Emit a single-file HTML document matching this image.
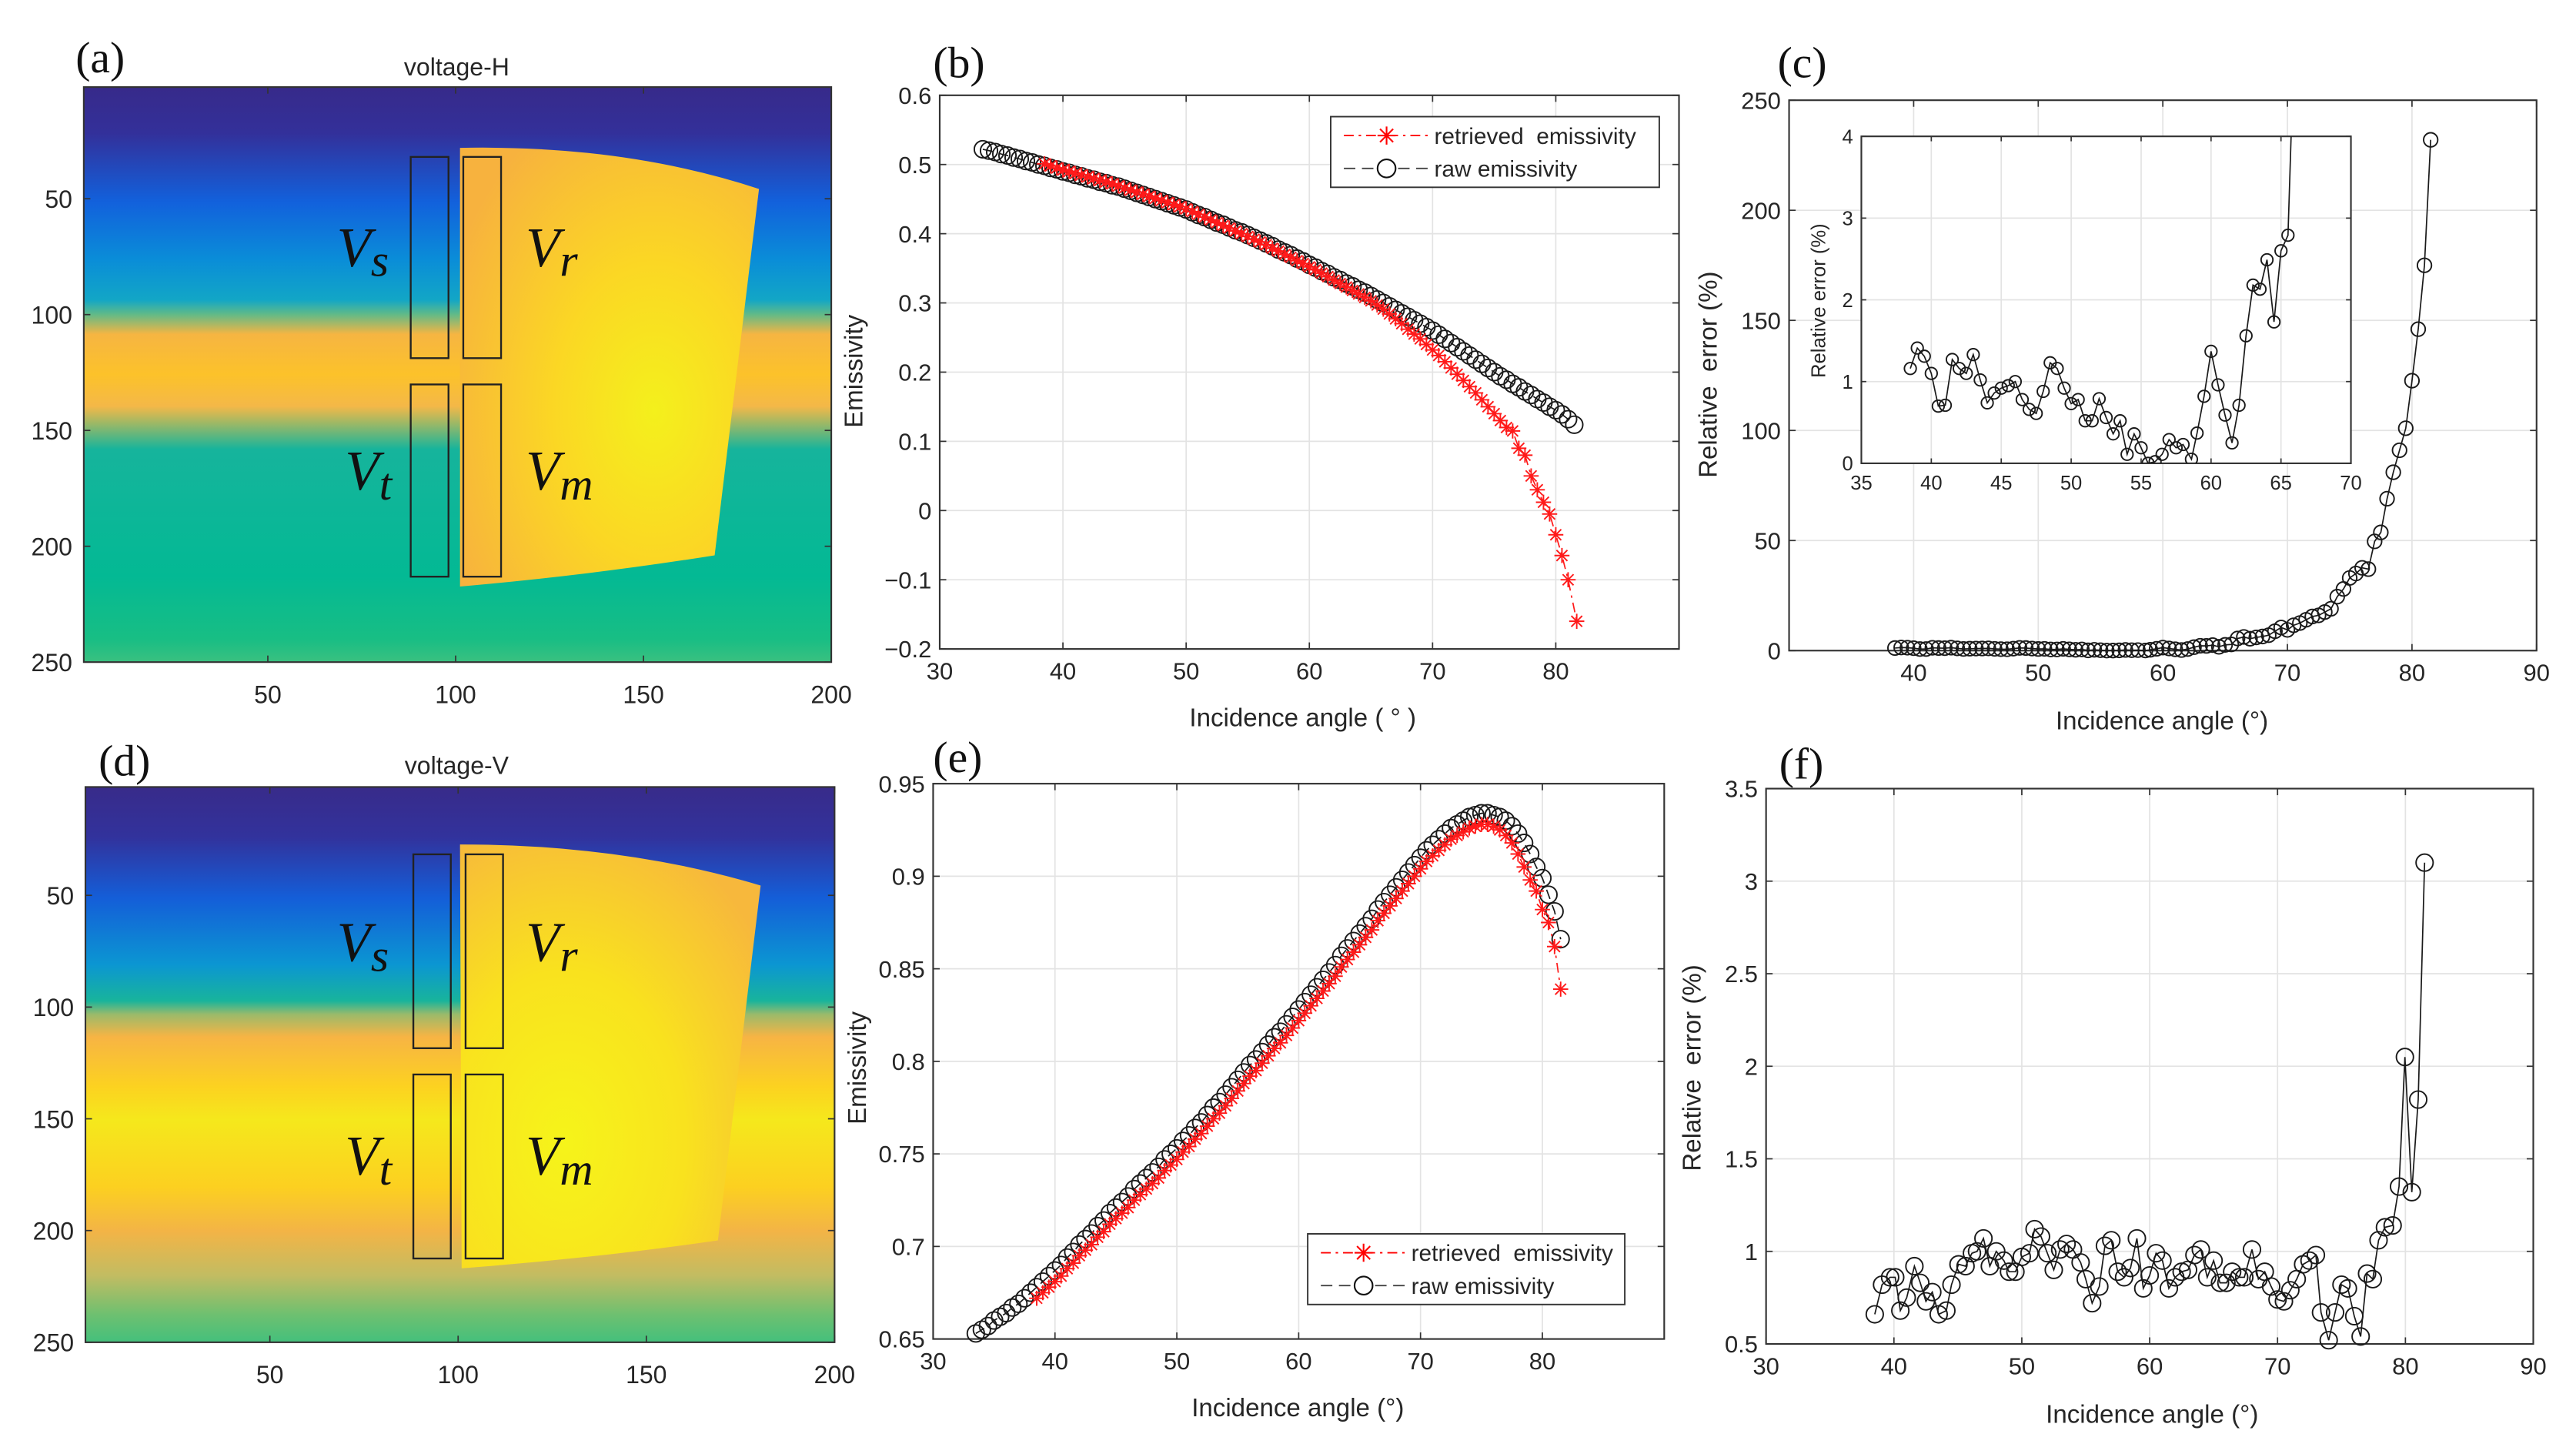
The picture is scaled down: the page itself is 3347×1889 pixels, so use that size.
<!DOCTYPE html>
<html><head><meta charset="utf-8">
<style>
html,body{margin:0;padding:0;background:#fff;}
svg{display:block;}
text{font-family:"Liberation Sans",Arial,sans-serif;fill:#262626;}
.pl{font-family:"Liberation Serif",serif;font-size:27px;fill:#111;}
.vl{font-family:"Liberation Serif",serif;font-style:italic;fill:#111;}
</style></head>
<body>
<svg id="fig" width="3347" height="1889" viewBox="0 0 1568 885" preserveAspectRatio="none" xmlns="http://www.w3.org/2000/svg">
<defs>
<linearGradient id="bgA" x1="0" y1="0" x2="0" y2="1">
<stop offset="0" stop-color="#372a8a"/><stop offset="0.08" stop-color="#33309a"/>
<stop offset="0.2" stop-color="#1261dc"/><stop offset="0.3" stop-color="#0a8dd8"/>
<stop offset="0.37" stop-color="#12a6c6"/><stop offset="0.395" stop-color="#60ba88"/>
<stop offset="0.43" stop-color="#f6b542"/><stop offset="0.5" stop-color="#fcc22a"/>
<stop offset="0.555" stop-color="#f4b848"/><stop offset="0.585" stop-color="#9cb866"/>
<stop offset="0.63" stop-color="#16b49c"/><stop offset="0.85" stop-color="#03b994"/>
<stop offset="0.96" stop-color="#18be84"/><stop offset="1" stop-color="#3ac080"/>
</linearGradient>
<linearGradient id="bgD" x1="0" y1="0" x2="0" y2="1">
<stop offset="0" stop-color="#382b8a"/><stop offset="0.09" stop-color="#32329c"/>
<stop offset="0.2" stop-color="#145ed8"/><stop offset="0.32" stop-color="#0b96d2"/>
<stop offset="0.385" stop-color="#18b49c"/><stop offset="0.41" stop-color="#9cba6a"/>
<stop offset="0.45" stop-color="#f7b444"/><stop offset="0.54" stop-color="#fcd220"/>
<stop offset="0.6" stop-color="#f5e81c"/><stop offset="0.72" stop-color="#fcd020"/>
<stop offset="0.8" stop-color="#f3b446"/><stop offset="0.88" stop-color="#c2bc62"/>
<stop offset="0.95" stop-color="#6ec070"/><stop offset="1" stop-color="#44c07c"/>
</linearGradient>
<radialGradient id="shA" cx="0.65" cy="0.6" r="0.75">
<stop offset="0" stop-color="#f4f01c"/><stop offset="0.45" stop-color="#fbd724"/><stop offset="1" stop-color="#f7b23e"/>
</radialGradient>
<radialGradient id="shD" cx="0.35" cy="0.7" r="0.8">
<stop offset="0" stop-color="#f6f41a"/><stop offset="0.5" stop-color="#f9e21e"/><stop offset="1" stop-color="#f7b83c"/>
</radialGradient>
<clipPath id="clipInset"><rect x="1133" y="83" width="298" height="199"/></clipPath>
</defs>

<!-- Panel (a) -->
<g>
<text class="pl" x="46" y="44">(a)</text>
<text x="278" y="46" font-size="15" text-anchor="middle">voltage-H</text>
<rect x="51" y="53" width="455" height="350" fill="url(#bgA)"/>
<path d="M280,90 Q380,88 462,115 L435,338 Q360,350 280,357 Z" fill="url(#shA)"/>
<rect x="250" y="95.5" width="23" height="122.5" fill="none" stroke="#222" stroke-width="1.1"/>
<rect x="282" y="95.5" width="23" height="122.5" fill="none" stroke="#222" stroke-width="1.1"/>
<rect x="250" y="234" width="23" height="117" fill="none" stroke="#222" stroke-width="1.1"/>
<rect x="282" y="234" width="23" height="117" fill="none" stroke="#222" stroke-width="1.1"/>
<text class="vl" x="205" y="162" font-size="34">V<tspan font-size="28" dy="6">s</tspan></text>
<text class="vl" x="320" y="162" font-size="34">V<tspan font-size="28" dy="6">r</tspan></text>
<text class="vl" x="210" y="298" font-size="34">V<tspan font-size="28" dy="6">t</tspan></text>
<text class="vl" x="320" y="298" font-size="34">V<tspan font-size="28" dy="6">m</tspan></text>
<rect x="51" y="53" width="455" height="350" fill="none" stroke="#333" stroke-width="1"/>
<g id="ticksA"></g>
</g>

<!-- Panel (d) -->
<g>
<text class="pl" x="60" y="472">(d)</text>
<text x="278" y="471" font-size="15" text-anchor="middle">voltage-V</text>
<rect x="52" y="479" width="456" height="338" fill="url(#bgD)"/>
<path d="M280,514 Q380,514 463,539 L437,755 Q360,766 281,772 Z" fill="url(#shD)"/>
<rect x="251.6" y="520" width="22.8" height="118" fill="none" stroke="#222" stroke-width="1.1"/>
<rect x="283.4" y="520" width="22.8" height="118" fill="none" stroke="#222" stroke-width="1.1"/>
<rect x="251.6" y="654" width="22.8" height="112" fill="none" stroke="#222" stroke-width="1.1"/>
<rect x="283.4" y="654" width="22.8" height="112" fill="none" stroke="#222" stroke-width="1.1"/>
<text class="vl" x="205" y="585" font-size="34">V<tspan font-size="28" dy="6">s</tspan></text>
<text class="vl" x="320" y="585" font-size="34">V<tspan font-size="28" dy="6">r</tspan></text>
<text class="vl" x="210" y="715" font-size="34">V<tspan font-size="28" dy="6">t</tspan></text>
<text class="vl" x="320" y="715" font-size="34">V<tspan font-size="28" dy="6">m</tspan></text>
<rect x="52" y="479" width="456" height="338" fill="none" stroke="#333" stroke-width="1"/>
<g id="ticksD"></g>
</g>

<text class="pl" x="568" y="47">(b)</text>
<text class="pl" x="1082" y="47">(c)</text>
<text class="pl" x="568" y="470">(e)</text>
<text class="pl" x="1083" y="474">(f)</text>
<g id="plots"></g>
</svg>

<script>
// ---------- data ----------
const bAngles = [33.5,34,34.5,35,35.5,36,36.5,37,37.5,38,38.5,39,39.5,40,40.5,41,41.5,42,42.5,43,43.5,44,44.5,45,45.5,46,46.5,47,47.5,48,48.5,49,49.5,50,50.5,51,51.5,52,52.5,53,53.5,54,54.5,55,55.5,56,56.5,57,57.5,58,58.5,59,59.5,60,60.5,61,61.5,62,62.5,63,63.5,64,64.5,65,65.5,66,66.5,67,67.5,68,68.5,69,69.5,70,70.5,71,71.5,72,72.5,73,73.5,74,74.5,75,75.5,76,76.5,77,77.5,78,78.5,79,79.5,80,80.5,81,81.5];
const bRaw = [.522,.520,.518,.515,.513,.510,.508,.505,.503,.500,.498,.495,.493,.490,.488,.485,.483,.480,.478,.475,.473,.470,.468,.465,.462,.459,.456,.453,.450,.447,.444,.441,.438,.435,.431,.427,.424,.420,.416,.413,.409,.405,.402,.398,.394,.390,.386,.382,.377,.373,.369,.364,.360,.355,.351,.346,.342,.337,.333,.328,.324,.319,.315,.310,.305,.300,.295,.290,.285,.280,.275,.270,.265,.260,.254,.248,.242,.236,.230,.224,.218,.212,.206,.200,.194,.189,.183,.178,.172,.167,.161,.156,.150,.145,.139,.132,.124];
const bRetAngles = [38.5,39,39.5,40,40.5,41,41.5,42,42.5,43,43.5,44,44.5,45,45.5,46,46.5,47,47.5,48,48.5,49,49.5,50,50.5,51,51.5,52,52.5,53,53.5,54,54.5,55,55.5,56,56.5,57,57.5,58,58.5,59,59.5,60,60.5,61,61.5,62,62.5,63,63.5,64,64.5,65,65.5,66,66.5,67,67.5,68,68.5,69,69.5,70,70.5,71,71.5,72,72.5,73,73.5,74,74.5,75,75.5,76,76.5,77,77.5,78,78.5,79,79.5,80,80.5,81,81.7];
const bRet = [.501,.498,.495,.492,.490,.487,.485,.482,.480,.477,.475,.472,.469,.466,.463,.460,.457,.454,.451,.448,.445,.442,.439,.436,.432,.428,.424,.420,.416,.412,.408,.404,.400,.396,.392,.388,.384,.379,.375,.370,.366,.361,.357,.352,.348,.343,.338,.333,.328,.323,.318,.313,.308,.303,.297,.291,.284,.277,.270,.262,.255,.248,.240,.232,.224,.215,.206,.197,.188,.179,.170,.160,.150,.140,.130,.120,.115,.090,.080,.050,.030,.012,-.005,-.035,-.065,-.100,-.160];

const cAngles = [38.5,39,39.5,40,40.5,41,41.5,42,42.5,43,43.5,44,44.5,45,45.5,46,46.5,47,47.5,48,48.5,49,49.5,50,50.5,51,51.5,52,52.5,53,53.5,54,54.5,55,55.5,56,56.5,57,57.5,58,58.6,59,59.5,60,60.5,61,61.5,62,62.5,63,63.5,64,64.5,65,65.5,66,66.5,67,67.5,68,68.5,69,69.5,70,70.5,71,71.5,72,72.5,73,73.5,74,74.5,75,75.5,76,76.5,77,77.5,78,78.5,79,79.5,80,80.5,81,81.5];
const cErr = [1.16,1.41,1.31,1.10,0.70,0.71,1.27,1.16,1.10,1.33,1.02,0.74,0.86,0.92,0.95,1.00,0.78,0.66,0.61,0.88,1.23,1.16,0.92,0.73,0.78,0.52,0.52,0.79,0.56,0.36,0.52,0.11,0.36,0.19,0.00,0.02,0.11,0.29,0.19,0.23,0.05,0.37,0.82,1.37,0.96,0.59,0.25,0.71,1.56,2.18,2.13,2.49,1.73,2.60,2.79,5.5,6.2,5.4,6.0,6.4,7.0,8.8,10.5,9.4,11.5,12.5,14,15.5,16,17.5,19,24.5,28,33,35,37.6,37,49.6,53.7,69,81,91,101,122.6,146,175,232];

const eAngles = bAngles;
const eRaw = [.653,.655,.657,.660,.662,.664,.667,.669,.672,.675,.678,.681,.684,.687,.690,.694,.697,.701,.704,.707,.711,.714,.718,.721,.724,.727,.731,.734,.737,.740,.743,.747,.750,.753,.757,.760,.764,.767,.771,.775,.778,.782,.786,.790,.794,.798,.801,.805,.809,.813,.816,.820,.824,.828,.832,.836,.840,.844,.848,.852,.857,.861,.865,.869,.873,.877,.882,.886,.890,.894,.898,.902,.906,.910,.914,.917,.920,.923,.926,.928,.930,.932,.933,.934,.934,.933,.932,.930,.927,.923,.918,.912,.905,.899,.890,.881,.866];
const eRetAngles = [38.5,39,39.5,40,40.5,41,41.5,42,42.5,43,43.5,44,44.5,45,45.5,46,46.5,47,47.5,48,48.5,49,49.5,50,50.5,51,51.5,52,52.5,53,53.5,54,54.5,55,55.5,56,56.5,57,57.5,58,58.5,59,59.5,60,60.5,61,61.5,62,62.5,63,63.5,64,64.5,65,65.5,66,66.5,67,67.5,68,68.5,69,69.5,70,70.5,71,71.5,72,72.5,73,73.5,74,74.5,75,75.5,76,76.5,77,77.5,78,78.5,79,79.5,80,80.5,81,81.5];
const eRet = [.672,.675,.678,.681,.684,.688,.691,.695,.698,.701,.705,.708,.712,.715,.718,.721,.725,.728,.731,.734,.737,.741,.744,.747,.751,.754,.758,.761,.765,.769,.772,.776,.780,.784,.788,.792,.795,.799,.803,.807,.810,.814,.818,.822,.826,.830,.834,.838,.842,.846,.851,.855,.859,.863,.867,.871,.876,.880,.884,.888,.892,.896,.900,.904,.908,.911,.914,.917,.920,.922,.924,.926,.927,.928,.928,.927,.925,.922,.918,.912,.905,.898,.892,.882,.875,.862,.839];

const fAngles = [38.5,39.07,39.7,40.1,40.5,41,41.6,42.06,42.5,43,43.5,44.1,44.5,45.05,45.6,46.1,46.5,47,47.5,48,48.6,49,49.5,50,50.6,51,51.5,52,52.5,53,53.5,54,54.6,55,55.5,56.06,56.5,57,57.5,58,58.5,59,59.5,60,60.5,61,61.5,62,62.5,63,63.5,64,64.5,65,65.5,66,66.45,67,67.4,68,68.5,69,69.5,70,70.5,71,71.5,72,72.5,73,73.4,74,74.5,75,75.5,76,76.5,77,77.45,77.9,78.4,79,79.5,79.96,80.5,81,81.5];
const fErr = [0.66,0.82,0.86,0.86,0.68,0.75,0.92,0.83,0.73,0.78,0.66,0.68,0.82,0.93,0.92,0.99,1.00,1.07,0.92,1.00,0.95,0.89,0.89,0.97,0.99,1.12,1.08,0.99,0.90,1.01,1.04,1.01,0.94,0.85,0.72,0.81,1.03,1.06,0.89,0.86,0.91,1.07,0.80,0.87,0.99,0.95,0.80,0.86,0.89,0.90,0.98,1.01,0.86,0.95,0.83,0.83,0.89,0.86,0.86,1.01,0.85,0.89,0.81,0.74,0.73,0.79,0.85,0.93,0.95,0.98,0.67,0.52,0.67,0.82,0.80,0.65,0.54,0.88,0.85,1.06,1.13,1.14,1.35,2.05,1.32,1.82,3.10];

const bXTicks = [30,40,50,60,70,80];
const bYTicks = [-0.2,-0.1,0,0.1,0.2,0.3,0.4,0.5,0.6];
const bYLabels = ["\u22120.2","\u22120.1","0","0.1","0.2","0.3","0.4","0.5","0.6"];
const cXTicks = [40,50,60,70,80,90];
const cYTicks = [0,50,100,150,200,250];
const insetXTicks = [35,40,45,50,55,60,65,70];
const insetYTicks = [0,1,2,3,4];
const eXTicks = [30,40,50,60,70,80];
const eYTicks = [0.65,0.7,0.75,0.8,0.85,0.9,0.95];
const fXTicks = [30,40,50,60,70,80,90];
const fYTicks = [0.5,1,1.5,2,2.5,3,3.5];
const hmXTicks = [50,100,150,200];
const hmYTicks = [50,100,150,200,250];

// ---------- helpers ----------
const NS = "http://www.w3.org/2000/svg";
const plots = document.getElementById('plots');
function mk(tag, attrs, parent){
  const el = document.createElementNS(NS, tag);
  for (const k in attrs) el.setAttribute(k, attrs[k]);
  (parent||plots).appendChild(el);
  return el;
}
function txt(s, x, y, size, anchor, parent, rot){
  const t = mk('text', {x:x, y:y, 'font-size':size, 'text-anchor':anchor||'middle'}, parent);
  if (rot) t.setAttribute('transform', 'rotate(-90 '+x+' '+y+')');
  t.textContent = s;
  return t;
}
function scaleLin(d0,d1,r0,r1){ return v => r0 + (v-d0)*(r1-r0)/(d1-d0); }

function axes(p){
  const g = mk('g', {});
  
  
  const sx = scaleLin(p.xmin,p.xmax,p.x0,p.x1), sy = scaleLin(p.ymin,p.ymax,p.y1,p.y0);
  mk('rect',{x:p.x0,y:p.y0,width:p.x1-p.x0,height:p.y1-p.y0,fill:'#fff'},g);
  p.xt.forEach(v=>{ mk('line',{x1:sx(v),x2:sx(v),y1:p.y0,y2:p.y1,stroke:'#e3e3e3','stroke-width':0.8},g); });
  p.yt.forEach(v=>{ mk('line',{x1:p.x0,x2:p.x1,y1:sy(v),y2:sy(v),stroke:'#e3e3e3','stroke-width':0.8},g); });
  mk('rect',{x:p.x0,y:p.y0,width:p.x1-p.x0,height:p.y1-p.y0,fill:'none',stroke:'#333','stroke-width':1},g);
  const tl = p.tick||4;
  p.xt.forEach(v=>{
    mk('line',{x1:sx(v),x2:sx(v),y1:p.y1,y2:p.y1-tl,stroke:'#333','stroke-width':0.8},g);
    mk('line',{x1:sx(v),x2:sx(v),y1:p.y0,y2:p.y0+tl,stroke:'#333','stroke-width':0.8},g);
    const t = txt(String(v), sx(v), p.y1+p.fs+4, p.fs, 'middle', g);
    
    
  });
  p.yt.forEach((v,i)=>{
    mk('line',{x1:p.x0,x2:p.x0+tl,y1:sy(v),y2:sy(v),stroke:'#333','stroke-width':0.8},g);
    mk('line',{x1:p.x1,x2:p.x1-tl,y1:sy(v),y2:sy(v),stroke:'#333','stroke-width':0.8},g);
    const t = txt(p.yl ? p.yl[i] : String(v), p.x0-5, sy(v)+p.fs*0.36, p.fs, 'end', g);
    
    
  });
  if (p.xlabel){ const t = txt(p.xlabel, p.xlx, p.xly, p.lfs, 'middle', g);   }
  if (p.ylabel){ const t = txt(p.ylabel, p.ylx, p.yly, p.lfs, 'middle', g, true);   }
  return {sx, sy, g};
}
function series(ax, xs, ys, opt){
  const g = mk('g', opt.clip ? {'clip-path':'url(#'+opt.clip+')'} : {}, ax.g);
  
  
  const pts = xs.map((x,i)=> ax.sx(x).toFixed(2)+','+ax.sy(ys[i]).toFixed(2)).join(' ');
  const pl = mk('polyline',{points:pts,fill:'none',stroke:opt.color,'stroke-width':opt.lw||0.8}, g);
  if (opt.dash) pl.setAttribute('stroke-dasharray', opt.dash);
  xs.forEach((x,i)=>{
    const cx = ax.sx(x), cy = ax.sy(ys[i]);
    if (opt.marker==='o'){
      const c = mk('circle',{cx:cx,cy:cy,r:opt.r,fill:'none',stroke:opt.color,'stroke-width':0.9}, g);
      
      
    } else {
      const s = opt.r, d = s*0.72;
      const p = mk('path',{d:'M'+(cx-s)+','+cy+'h'+(2*s)+'M'+cx+','+(cy-s)+'v'+(2*s)+'M'+(cx-d)+','+(cy-d)+'l'+(2*d)+','+(2*d)+'M'+(cx-d)+','+(cy+d)+'l'+(2*d)+','+(-2*d),stroke:opt.color,'stroke-width':0.9,fill:'none'}, g);
      
      
    }
  });
}
function legend(x,y,w,h){
  const g = mk('g',{});
  
  
  mk('rect',{x:x,y:y,width:w,height:h,fill:'#fff',stroke:'#333','stroke-width':0.9},g);
  const y1 = y+11.5, y2 = y+31.5;
  mk('line',{x1:x+8,x2:x+60,y1:y1,y2:y1,stroke:'#f00','stroke-width':0.9,'stroke-dasharray':'6,3,1.5,3'},g);
  const s=5.5,d=4;
  mk('path',{d:'M'+(x+34-s)+','+y1+'h'+2*s+'M'+(x+34)+','+(y1-s)+'v'+2*s+'M'+(x+34-d)+','+(y1-d)+'l'+2*d+','+2*d+'M'+(x+34-d)+','+(y1+d)+'l'+2*d+','+(-2*d),stroke:'#f00','stroke-width':1,fill:'none'},g);
  mk('line',{x1:x+8,x2:x+60,y1:y2,y2:y2,stroke:'#444','stroke-width':0.9,'stroke-dasharray':'7,4'},g);
  mk('circle',{cx:x+34,cy:y2,r:5.5,fill:'#fff',stroke:'#111','stroke-width':1},g);
  const t1 = txt('retrieved\u00a0 emissivity', x+63, y1+5, 14, 'start', g);
  
  
  const t2 = txt('raw emissivity', x+63, y2+5, 14, 'start', g);
  
  
}
function hmTicks(id, x0,x1,y0,y1, ymin){
  const g = document.getElementById(id);
  const sx = scaleLin(0,200,x0-2.3,x1), sy = scaleLin(ymin,250,y0,y1);
  hmXTicks.forEach(v=>{
    mk('line',{x1:sx(v),x2:sx(v),y1:y1,y2:y1-4,stroke:'#333','stroke-width':0.8},g);
    mk('line',{x1:sx(v),x2:sx(v),y1:y0,y2:y0+4,stroke:'#333','stroke-width':0.8},g);
    const t = txt(String(v), sx(v), y1+25, 15, 'middle', g);
    
    
  });
  hmYTicks.forEach(v=>{
    mk('line',{x1:x0,x2:x0+4,y1:sy(v),y2:sy(v),stroke:'#333','stroke-width':0.8},g);
    mk('line',{x1:x1,x2:x1-4,y1:sy(v),y2:sy(v),stroke:'#333','stroke-width':0.8},g);
    const t = txt(String(v), x0-7, sy(v)+5.5, 15, 'end', g);
    
    
  });
}
hmTicks('ticksA', 51,506,53,403, 1.8);
hmTicks('ticksD', 52,508,479,817, 1.5);

// ---------- panel b ----------
const axB = axes({name:'chart-b',x0:572,x1:1022,y0:58,y1:395,xmin:30,xmax:90,ymin:-0.2,ymax:0.6,xt:bXTicks,yt:bYTicks,yl:bYLabels,fs:14.5,lfs:15.5,
  xlabel:'Incidence angle ( \u00b0 )',xlx:793,xly:442,ylabel:'Emissivity',ylx:525,yly:226});
series(axB, bAngles, bRaw, {name:'series-raw-b',marker:'o',r:5.2,color:'#1a1a1a',dash:'6,4'});
series(axB, bRetAngles, bRet, {name:'series-retrieved-b',marker:'*',r:4.6,color:'#ff1a1a',dash:'6,3,1.5,3'});
legend(810,71,200,43);

// ---------- panel c ----------
const axC = axes({name:'chart-c',x0:1089,x1:1544,y0:61,y1:396,xmin:30,xmax:90,ymin:0,ymax:250,xt:cXTicks,yt:cYTicks,fs:14.5,lfs:15.5,
  xlabel:'Incidence angle (\u00b0)',xlx:1316,xly:444,ylabel:'Relative\u00a0 error (%)',ylx:1045,yly:228});
series(axC, cAngles, cErr, {name:'series-error-c',marker:'o',r:4.3,color:'#1a1a1a'});
const axI = axes({name:'chart-c-inset',x0:1133,x1:1431,y0:83,y1:282,xmin:35,xmax:70,ymin:0,ymax:4,xt:insetXTicks,yt:insetYTicks,fs:12,lfs:12,tick:3,
  ylabel:'Relative error (%)',ylx:1111,yly:183});
series(axI, cAngles, cErr, {name:'series-error-c-inset',marker:'o',r:3.6,color:'#1a1a1a',clip:'clipInset'});

// ---------- panel e ----------
const axE = axes({name:'chart-e',x0:568,x1:1013,y0:477,y1:815,xmin:30,xmax:90,ymin:0.65,ymax:0.95,xt:eXTicks,yt:eYTicks,fs:14.5,lfs:15.5,
  xlabel:'Incidence angle (\u00b0)',xlx:790,xly:862,ylabel:'Emissivity',ylx:527,yly:650});
series(axE, eAngles, eRaw, {name:'series-raw-e',marker:'o',r:5.2,color:'#1a1a1a',dash:'6,4'});
series(axE, eRetAngles, eRet, {name:'series-retrieved-e',marker:'*',r:4.6,color:'#ff1a1a',dash:'6,3,1.5,3'});
legend(796,751,193,43);

// ---------- panel f ----------
const axF = axes({name:'chart-f',x0:1075,x1:1542,y0:480,y1:818,xmin:30,xmax:90,ymin:0.5,ymax:3.5,xt:fXTicks,yt:fYTicks,fs:14.5,lfs:15.5,
  xlabel:'Incidence angle (\u00b0)',xlx:1310,xly:866,ylabel:'Relative\u00a0 error (%)',ylx:1035,yly:650});
series(axF, fAngles, fErr, {name:'series-error-f',marker:'o',r:5.2,color:'#1a1a1a'});
</script>
</body></html>
